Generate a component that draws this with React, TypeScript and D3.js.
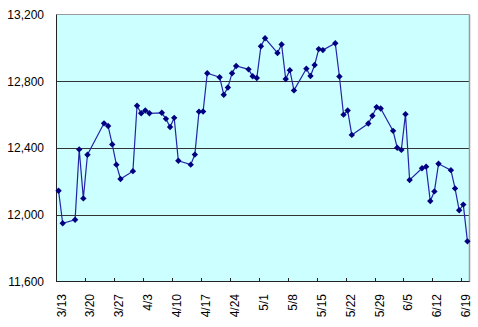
import React, { useRef, useEffect } from "react";
import * as d3 from "d3";

// trading days (2008) and closing values
const dates = [
  "3/13", "3/14", "3/17", "3/18", "3/19", "3/20", "3/24", "3/25", "3/26", "3/27", "3/28", "3/31",
  "4/1", "4/2", "4/3", "4/4", "4/7", "4/8", "4/9", "4/10", "4/11", "4/14", "4/15", "4/16", "4/17",
  "4/18", "4/21", "4/22", "4/23", "4/24", "4/25", "4/28", "4/29", "4/30",
  "5/1", "5/2", "5/5", "5/6", "5/7", "5/8", "5/9", "5/12", "5/13", "5/14", "5/15", "5/16", "5/19",
  "5/20", "5/21", "5/22", "5/23", "5/27", "5/28", "5/29", "5/30",
  "6/2", "6/3", "6/4", "6/5", "6/6", "6/9", "6/10", "6/11", "6/12", "6/13", "6/16", "6/17", "6/18",
  "6/19", "6/20",
];

const values = [
  12146, 11951, 11972, 12393, 12100, 12361, 12549, 12533, 12423, 12302, 12216, 12263,
  12654, 12609, 12626, 12609, 12612, 12576, 12527, 12582, 12325, 12302, 12362, 12619, 12620,
  12849, 12825, 12720, 12763, 12849, 12892, 12872, 12831, 12820,
  13010, 13058, 12970, 13021, 12814, 12867, 12746, 12876, 12832, 12898, 12993, 12987, 13028,
  12829, 12601, 12626, 12480, 12548, 12594, 12646, 12638,
  12504, 12403, 12390, 12604, 12210, 12280, 12290, 12084, 12142, 12307, 12269, 12160, 12029,
  12063, 11843,
];

const tickLabels = [
  "3/13", "3/20", "3/27", "4/3", "4/10", "4/17", "4/24", "5/1", "5/8", "5/15", "5/22", "5/29",
  "6/5", "6/12", "6/19",
];

const yTicks = [11600, 12000, 12400, 12800, 13200];

const parse = d3.utcParse("%Y/%m/%d");
const toDate = (s: string) => parse("2008/" + s) as Date;

const WIDTH = 478;
const HEIGHT = 327;
const FONT = "'Liberation Sans', Arial, sans-serif";

export default function App() {
  const svgRef = useRef<SVGSVGElement | null>(null);

  useEffect(() => {
    if (!svgRef.current) return;
    const svg = d3.select(svgRef.current);
    svg.selectAll("*").remove();

    const left = 56.5;
    const right = 469.5;
    const top = 14.5;
    const bottom = 282;

    const x = d3
      .scaleUtc()
      .domain([toDate("3/13"), toDate("6/21")])
      .range([left, right]);

    const y = d3.scaleLinear().domain([11600, 13200]).range([bottom, top]);

    // plot background
    svg
      .append("rect")
      .attr("x", left)
      .attr("y", top)
      .attr("width", right - left)
      .attr("height", bottom - top)
      .attr("fill", "#ccffff");

    // gridlines
    svg
      .append("g")
      .selectAll("line")
      .data(yTicks.slice(1, -1))
      .join("line")
      .attr("x1", left)
      .attr("x2", right)
      .attr("y1", (d) => Math.round(y(d)) + 0.5)
      .attr("y2", (d) => Math.round(y(d)) + 0.5)
      .attr("stroke", "#333")
      .attr("stroke-width", 1);

    // frame: gray top / right, dark axes
    svg
      .append("line")
      .attr("x1", left)
      .attr("x2", right)
      .attr("y1", top)
      .attr("y2", top)
      .attr("stroke", "#999");
    svg
      .append("line")
      .attr("x1", right)
      .attr("x2", right)
      .attr("y1", top)
      .attr("y2", bottom)
      .attr("stroke", "#999")
      .attr("stroke-width", 1.5);
    svg
      .append("line")
      .attr("x1", left)
      .attr("x2", left)
      .attr("y1", top)
      .attr("y2", bottom)
      .attr("stroke", "#222");
    svg
      .append("line")
      .attr("x1", left)
      .attr("x2", right)
      .attr("y1", bottom - 0.5)
      .attr("y2", bottom - 0.5)
      .attr("stroke", "#222");

    // x ticks (inside) and rotated labels
    const xTicks = svg
      .append("g")
      .selectAll("g")
      .data(tickLabels)
      .join("g")
      .attr("transform", (d) => `translate(${Math.round(x(toDate(d))) + 0.5},0)`);

    xTicks
      .filter((_, i) => i > 0)
      .append("line")
      .attr("y1", bottom - 4)
      .attr("y2", bottom)
      .attr("stroke", "#222");

    xTicks
      .append("text")
      .attr("transform", `translate(8,${bottom + 12}) rotate(-90)`)
      .attr("text-anchor", "end")
      .attr("font-family", FONT)
      .attr("font-size", 12)
      .attr("fill", "#000")
      .text((d) => d);

    // y labels
    svg
      .append("g")
      .selectAll("text")
      .data(yTicks)
      .join("text")
      .attr("x", 44)
      .attr("y", (d) => y(d))
      .attr("dy", "0.35em")
      .attr("text-anchor", "end")
      .attr("font-family", FONT)
      .attr("font-size", 12)
      .attr("fill", "#000")
      .text((d) => d3.format(",")(d));

    const pts = dates.map((d, i) => ({
      date: new Date(toDate(d).getTime() + 12 * 3600 * 1000),
      value: values[i],
    }));

    const line = d3
      .line<{ date: Date; value: number }>()
      .x((d) => x(d.date))
      .y((d) => y(d.value));

    svg
      .append("path")
      .datum(pts)
      .attr("fill", "none")
      .attr("stroke", "#2424a8")
      .attr("stroke-width", 1.2)
      .attr("d", line);

    const diamond = d3.symbol().type(d3.symbolDiamond2).size(26);

    svg
      .append("g")
      .selectAll("path")
      .data(pts)
      .join("path")
      .attr("transform", (d) => `translate(${x(d.date)},${y(d.value)})`)
      .attr("d", diamond)
      .attr("fill", "#000080");
  }, []);

  return (
    <div style={{ position: "absolute", left: 0, top: 0 }}>
      <svg ref={svgRef} width={WIDTH} height={HEIGHT} style={{ display: "block", background: "#fff" }} />
    </div>
  );
}
